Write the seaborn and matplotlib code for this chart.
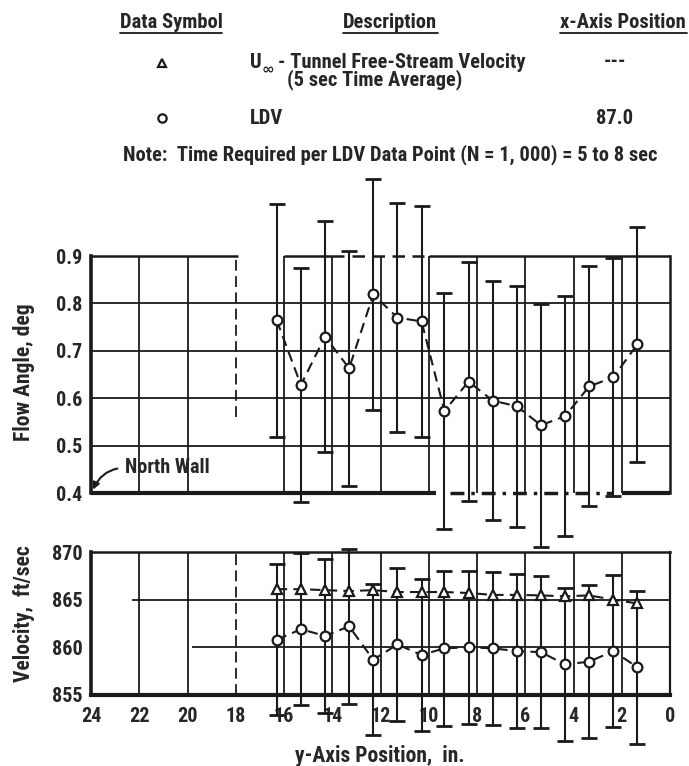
import matplotlib
matplotlib.use('Agg')
import matplotlib.pyplot as plt
import seaborn as sns
from matplotlib.lines import Line2D

# values
y_pos = [16.3, 15.3, 14.3, 13.3, 12.3, 11.3, 10.3, 9.35, 8.35, 7.35, 6.35, 5.35, 4.35, 3.35, 2.35, 1.35]
flow_angle = [0.764, 0.628, 0.730, 0.663, 0.819, 0.770, 0.762, 0.573, 0.635, 0.595, 0.583, 0.543, 0.562, 0.625, 0.644, 0.714]
flow_err = [0.245, 0.246, 0.243, 0.248, 0.243, 0.242, 0.244, 0.249, 0.252, 0.252, 0.254, 0.256, 0.253, 0.253, 0.251, 0.248]
ldv_vel = [860.8, 861.9, 861.2, 862.2, 858.7, 860.3, 859.2, 859.9, 860.0, 859.9, 859.6, 859.5, 858.2, 858.5, 859.6, 857.9]
ldv_err = [7.9, 8.0, 8.1, 8.1, 7.9, 8.0, 8.0, 8.1, 8.0, 8.0, 8.1, 7.95, 8.05, 8.0, 8.0, 8.0]
u_inf = [866.1, 866.1, 866.0, 865.9, 866.0, 865.8, 865.8, 865.8, 865.7, 865.5, 865.5, 865.45, 865.35, 865.45, 865.0, 864.6]

x_ticks = [24, 22, 20, 18, 16, 14, 12, 10, 8, 6, 4, 2, 0]
angle_ticks = [0.4, 0.5, 0.6, 0.7, 0.8, 0.9]
vel_ticks = [855, 860, 865, 870]

sns.set_theme(style='white')
plt.rcParams['font.family'] = ['Roboto Condensed', 'DejaVu Sans']
plt.rcParams['font.weight'] = 'bold'

W, H = 689, 766
fig = plt.figure(figsize=(W / 100, H / 100), dpi=100)
fig.patch.set_facecolor('white')

def fx(px):
    return px / W

def fy(py):
    return 1 - py / H

# ---- header table ----
fs = 14.8
for label, cx, x0, x1 in [('Data Symbol', 171, 120, 222),
                          ('Description', 390, 343, 438),
                          ('x-Axis Position', 623, 560, 687)]:
    fig.text(fx(cx), fy(22), label, ha='center', va='center', fontsize=fs, fontweight='bold')
    fig.add_artist(Line2D([fx(x0), fx(x1)], [fy(33), fy(33)], color='k', lw=1.3))

fig.add_artist(Line2D([fx(162)], [fy(63)], marker='^', ms=6, mfc='white', mec='k', mew=1.6, ls='none'))
fig.text(fx(250), fy(62), 'U', ha='left', va='center', fontsize=fs, fontweight='bold')
fig.text(fx(262), fy(69), '\u221e', ha='left', va='center', fontsize=11, fontweight='bold',
         family=['DejaVu Sans'])
fig.text(fx(278), fy(62), '- Tunnel Free-Stream Velocity', ha='left', va='center',
         fontsize=fs, fontweight='bold')
fig.text(fx(287), fy(80), '(5 sec Time Average)', ha='left', va='center', fontsize=fs, fontweight='bold')
fig.text(fx(615), fy(62), '---', ha='center', va='center', fontsize=fs, fontweight='bold')

fig.add_artist(Line2D([fx(162)], [fy(118)], marker='o', ms=6, mfc='white', mec='k', mew=1.6, ls='none'))
fig.text(fx(250), fy(118), 'LDV', ha='left', va='center', fontsize=fs, fontweight='bold')
fig.text(fx(615), fy(118), '87.0', ha='center', va='center', fontsize=fs, fontweight='bold')

fig.text(fx(390), fy(155), 'Note:  Time Required per LDV Data Point (N = 1, 000) = 5 to 8 sec',
         ha='center', va='center', fontsize=fs, fontweight='bold')

# ---- axes ----
ax1 = fig.add_axes([fx(91), fy(493), fx(579), 237 / H])
ax2 = fig.add_axes([fx(91), fy(695), fx(579), 143 / H])

for ax in (ax1, ax2):
    ax.set_xlim(24, 0)
    ax.set_facecolor('white')
    ax.grid(False)
    ax.tick_params(length=0, labelsize=14.5, pad=6)

# ---- flow angle panel ----
ax1.set_ylim(0.4, 0.9)
ax1.set_yticks(angle_ticks)
ax1.set_yticklabels([f'{v:.1f}' for v in angle_ticks], fontweight='bold')
ax1.set_xticks([])

for v in [0.5, 0.6, 0.7, 0.8]:
    ax1.hlines(v, 24, 0, color='k', lw=1.3, zorder=1)
for v in [22, 20, 16, 14, 12, 10, 8, 6, 4, 2]:
    ax1.vlines(v, 0.4, 0.9, color='k', lw=1.3, zorder=1)
ax1.vlines(18, 0.56, 0.9, color='k', lw=1.3, ls=(0, (6, 3)), zorder=1)

# frame drawn in pieces like the scanned original
for s in ['top', 'bottom']:
    ax1.spines[s].set_visible(False)
ax1.spines['left'].set_linewidth(2.6)
ax1.spines['right'].set_linewidth(1.8)
for s in ['left', 'right']:
    ax1.spines[s].set_color('k')
ax1.hlines(0.9, 24, 17.9, color='k', lw=1.8, clip_on=False)
ax1.hlines(0.9, 16, 13.5, color='k', lw=1.8, clip_on=False)
ax1.hlines(0.9, 13.2, 10.2, color='k', lw=1.8, ls=(0, (5, 3)), clip_on=False)
ax1.hlines(0.9, 10, 0, color='k', lw=1.8, clip_on=False)
ax1.hlines(0.4, 24, 9.7, color='k', lw=3, clip_on=False)
ax1.hlines(0.4, 9.1, 2.4, color='k', lw=2.5, ls=(0, (4, 2, 1, 2)), clip_on=False)
ax1.hlines(0.4, 2.0, 0, color='k', lw=3, clip_on=False)

ax1.errorbar(y_pos, flow_angle, yerr=flow_err, fmt='none', ecolor='k', elinewidth=1.5,
             capsize=6, capthick=2, clip_on=False, zorder=3)
sns.lineplot(x=y_pos, y=flow_angle, ax=ax1, color='k', lw=1.5, marker='o', ms=7,
             markerfacecolor='white', markeredgecolor='k', markeredgewidth=1.6,
             sort=False, zorder=4)
ax1.lines[-1].set_linestyle((0, (5, 3)))

ax1.annotate('North Wall', xy=(23.92, 0.407), xytext=(22.6, 0.453), fontsize=14.5, fontweight='bold',
             ha='left', va='center',
             arrowprops=dict(arrowstyle='-|>', color='k', lw=1.5, mutation_scale=10,
                             shrinkA=3, shrinkB=0, relpos=(0, 0.5),
                             connectionstyle='angle3,angleA=0,angleB=65'))

# ---- velocity panel ----
ax2.set_ylim(855, 870)
ax2.set_yticks(vel_ticks)
ax2.set_yticklabels([str(v) for v in vel_ticks], fontweight='bold')
ax2.set_xticks(x_ticks)
ax2.set_xticklabels([str(v) for v in x_ticks], fontweight='bold')
ax2.tick_params(axis='x', pad=9)

ax2.hlines(865, 22.3, 0, color='k', lw=1.3, zorder=1)
ax2.hlines(860, 19.8, 0, color='k', lw=1.3, zorder=1)
for v in [22, 20, 16, 14, 12, 10, 8, 6, 4, 2]:
    ax2.vlines(v, 855, 870, color='k', lw=1.3, zorder=1)
ax2.vlines(18, 855, 870, color='k', lw=1.3, ls=(0, (6, 3)), zorder=1)

for s in ax2.spines.values():
    s.set_color('k')
ax2.spines['left'].set_linewidth(2.6)
ax2.spines['bottom'].set_linewidth(3)
ax2.spines['top'].set_linewidth(1.8)
ax2.spines['right'].set_linewidth(1.6)

ax2.errorbar(y_pos, ldv_vel, yerr=ldv_err, fmt='none', ecolor='k', elinewidth=1.5,
             capsize=6, capthick=2, clip_on=False, zorder=3)
sns.lineplot(x=y_pos, y=u_inf, ax=ax2, color='k', lw=1.5, marker='^', ms=7,
             markerfacecolor='white', markeredgecolor='k', markeredgewidth=1.6,
             sort=False, zorder=4)
ax2.lines[-1].set_linestyle((0, (5, 3)))
sns.lineplot(x=y_pos, y=ldv_vel, ax=ax2, color='k', lw=1.5, marker='o', ms=7,
             markerfacecolor='white', markeredgecolor='k', markeredgewidth=1.6,
             sort=False, zorder=4)
ax2.lines[-1].set_linestyle((0, (5, 3)))
for ax in (ax1, ax2):
    ax.set_xlabel('')
    ax.set_ylabel('')

fig.text(fx(24), fy(372), 'Flow Angle, deg', rotation=90, ha='center', va='center',
         fontsize=15.5, fontweight='bold')
fig.text(fx(24), fy(614), 'Velocity,  ft/sec', rotation=90, ha='center', va='center',
         fontsize=15.5, fontweight='bold')
fig.text(fx(380), fy(756), 'y-Axis Position,  in.', ha='center', va='center',
         fontsize=15.5, fontweight='bold')

fig.savefig('out.png', dpi=100, facecolor='white')
